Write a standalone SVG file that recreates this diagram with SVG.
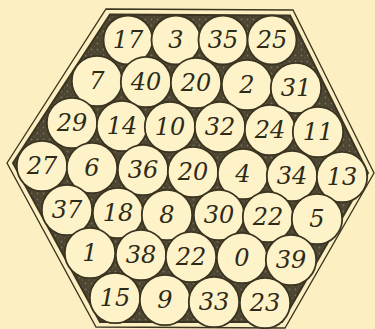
<svg xmlns="http://www.w3.org/2000/svg" width="375" height="329" viewBox="0 0 375 329">
<style>
.c{fill:#fdf2c8;stroke:#3a3420;stroke-width:1.8}
.t{font-family:"DejaVu Serif","Liberation Serif",serif;font-style:italic;font-size:24px;fill:#2e2a18;text-anchor:middle;dominant-baseline:central}
</style>
<defs>
<pattern id="st" width="6" height="6" patternUnits="userSpaceOnUse">
<rect width="6" height="6" fill="#4c4532"/>
<circle cx="1.5" cy="1.5" r="0.9" fill="#7a7158"/>
<circle cx="4.5" cy="4" r="0.7" fill="#655d47"/>
</pattern>
</defs>
<rect width="375" height="329" fill="#fcefc1"/>
<g id="frame">
<polygon points="106,9 293,10 374,173 285,328 96,327 7,163" fill="none" stroke="#3a3420" stroke-width="1.3"/>
<polygon points="110,14.5 290,15.5 368,173 282,322 100,322 13,163" fill="url(#st)" stroke="#3a3420" stroke-width="2"/>
</g>
<g id="n17"><circle class="c" cx="128" cy="40" r="24.5"/><text class="t" x="128" y="40">17</text></g>
<g id="n3"><circle class="c" cx="176" cy="40" r="24.5"/><text class="t" x="176" y="40">3</text></g>
<g id="n35"><circle class="c" cx="223" cy="40" r="24.5"/><text class="t" x="223" y="40">35</text></g>
<g id="n25"><circle class="c" cx="272" cy="40" r="24.5"/><text class="t" x="272" y="40">25</text></g>
<g id="n7"><circle class="c" cx="97" cy="81" r="25.2"/><text class="t" x="97" y="81">7</text></g>
<g id="n40"><circle class="c" cx="146" cy="82" r="25.2"/><text class="t" x="146" y="82">40</text></g>
<g id="n20a"><circle class="c" cx="196" cy="83" r="25.2"/><text class="t" x="196" y="83">20</text></g>
<g id="n2"><circle class="c" cx="247" cy="85" r="25.2"/><text class="t" x="247" y="85">2</text></g>
<g id="n31"><circle class="c" cx="296" cy="88" r="25.2"/><text class="t" x="296" y="88">31</text></g>
<g id="n29"><circle class="c" cx="72" cy="123" r="25.2"/><text class="t" x="72" y="123">29</text></g>
<g id="n14"><circle class="c" cx="122" cy="126" r="25.2"/><text class="t" x="122" y="126">14</text></g>
<g id="n10"><circle class="c" cx="170" cy="127" r="25.2"/><text class="t" x="170" y="127">10</text></g>
<g id="n32"><circle class="c" cx="220" cy="127" r="25.2"/><text class="t" x="220" y="127">32</text></g>
<g id="n24"><circle class="c" cx="270" cy="130" r="25.2"/><text class="t" x="270" y="130">24</text></g>
<g id="n11"><circle class="c" cx="318" cy="132" r="25.2"/><text class="t" x="318" y="132">11</text></g>
<g id="n27"><circle class="c" cx="42" cy="166" r="25.2"/><text class="t" x="42" y="166">27</text></g>
<g id="n6"><circle class="c" cx="92" cy="168" r="25.2"/><text class="t" x="92" y="168">6</text></g>
<g id="n36"><circle class="c" cx="143" cy="170" r="25.2"/><text class="t" x="143" y="170">36</text></g>
<g id="n20b"><circle class="c" cx="193" cy="172" r="25.2"/><text class="t" x="193" y="172">20</text></g>
<g id="n4"><circle class="c" cx="243" cy="174" r="25.2"/><text class="t" x="243" y="174">4</text></g>
<g id="n34"><circle class="c" cx="292" cy="176" r="25.2"/><text class="t" x="292" y="176">34</text></g>
<g id="n13"><circle class="c" cx="342" cy="177" r="25.2"/><text class="t" x="342" y="177">13</text></g>
<g id="n37"><circle class="c" cx="67" cy="210" r="25.2"/><text class="t" x="67" y="210">37</text></g>
<g id="n18"><circle class="c" cx="118" cy="213" r="25.2"/><text class="t" x="118" y="213">18</text></g>
<g id="n8"><circle class="c" cx="167" cy="215" r="25.2"/><text class="t" x="167" y="215">8</text></g>
<g id="n30"><circle class="c" cx="219" cy="215" r="25.2"/><text class="t" x="219" y="215">30</text></g>
<g id="n22a"><circle class="c" cx="268" cy="217" r="25.2"/><text class="t" x="268" y="217">22</text></g>
<g id="n5"><circle class="c" cx="317" cy="219" r="25.2"/><text class="t" x="317" y="219">5</text></g>
<g id="n1"><circle class="c" cx="90" cy="253" r="25.2"/><text class="t" x="90" y="253">1</text></g>
<g id="n38"><circle class="c" cx="141" cy="255" r="25.2"/><text class="t" x="141" y="255">38</text></g>
<g id="n22b"><circle class="c" cx="191" cy="257" r="25.2"/><text class="t" x="191" y="257">22</text></g>
<g id="n0"><circle class="c" cx="242" cy="258" r="25.2"/><text class="t" x="242" y="258">0</text></g>
<g id="n39"><circle class="c" cx="291" cy="260" r="25.2"/><text class="t" x="291" y="260">39</text></g>
<g id="n15"><circle class="c" cx="115" cy="298" r="25.2"/><text class="t" x="115" y="298">15</text></g>
<g id="n9"><circle class="c" cx="165" cy="300" r="25.2"/><text class="t" x="165" y="300">9</text></g>
<g id="n33"><circle class="c" cx="214" cy="302" r="25.2"/><text class="t" x="214" y="302">33</text></g>
<g id="n23"><circle class="c" cx="265" cy="303" r="25.2"/><text class="t" x="265" y="303">23</text></g>
<g id="connectors"/>
</svg>
